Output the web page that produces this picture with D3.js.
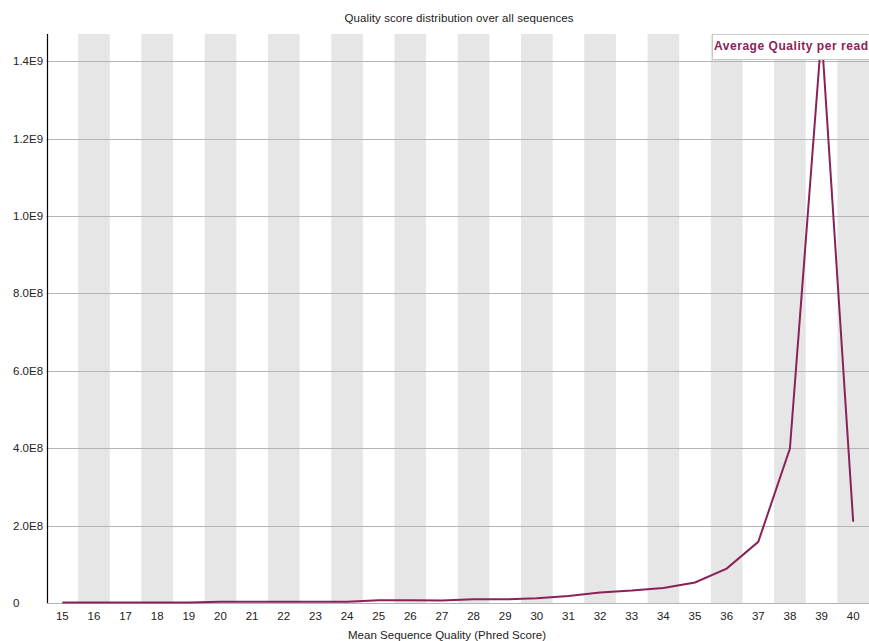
<!DOCTYPE html>
<html>
<head>
<meta charset="utf-8">
<script src="https://cdn.jsdelivr.net/npm/d3@7"></script>
<style>
  html, body { margin: 0; padding: 0; background: #fff; }
  svg { display: block; font-family: "Liberation Sans", Arial, sans-serif; }
</style>
</head>
<body>
<svg id="chart" width="869" height="641"></svg>
<script>
// Mean quality score per read (Phred) and the number of reads at each score
const qualities = [15, 16, 17, 18, 19, 20, 21, 22, 23, 24, 25, 26, 27, 28, 29, 30, 31, 32, 33, 34, 35, 36, 37, 38, 39, 40];
const readCounts = [
  1.0e6, 1.0e6, 1.0e6, 1.0e6, 1.0e6,
  3.4e6, 3.4e6, 3.4e6, 3.4e6, 3.4e6,
  7.0e6, 7.0e6, 6.5e6, 9.5e6, 9.5e6,
  1.2e7, 1.8e7, 2.7e7, 3.2e7, 3.9e7,
  5.3e7, 8.9e7, 1.58e8, 3.99e8, 1.47e9, 2.1e8
];
const yTicks = [0, 2e8, 4e8, 6e8, 8e8, 1e9, 1.2e9, 1.4e9];
const yTickLabels = ["0", "2.0E8", "4.0E8", "6.0E8", "8.0E8", "1.0E9", "1.2E9", "1.4E9"];
const seriesName = "Average Quality per read";
const chartTitle = "Quality score distribution over all sequences";
const xTitle = "Mean Sequence Quality (Phred Score)";

const svg = d3.select("#chart");
const plot = { left: 46.5, right: 869, top: 34, bottom: 603 };
const lineColor = "#8b2257";

const x = d3.scaleBand()
  .domain(qualities)
  .range([plot.left, plot.right])
  .padding(0);

const y = d3.scaleLinear()
  .domain([0, d3.max(readCounts)])
  .range([plot.bottom, plot.top]);

// alternating background stripes
svg.append("g")
  .selectAll("rect")
  .data(qualities.filter((q, i) => i % 2 === 1))
  .join("rect")
  .attr("x", d => x(d))
  .attr("y", plot.top)
  .attr("width", x.bandwidth())
  .attr("height", plot.bottom - plot.top)
  .attr("fill", "#e6e6e6");

// horizontal grid lines
svg.append("g")
  .selectAll("line")
  .data(yTicks)
  .join("line")
  .attr("x1", plot.left)
  .attr("x2", plot.right)
  .attr("y1", d => Math.round(y(d)) + 0.5)
  .attr("y2", d => Math.round(y(d)) + 0.5)
  .attr("stroke", "#b4b4b4")
  .attr("stroke-width", 1.2);

// y tick labels (left aligned)
svg.append("g")
  .selectAll("text")
  .data(yTicks)
  .join("text")
  .attr("x", 13)
  .attr("y", d => y(d) + 4)
  .attr("font-size", 11.5)
  .attr("fill", "#222")
  .text((d, i) => yTickLabels[i]);

// y axis line
svg.append("line")
  .attr("x1", 47.5).attr("x2", 47.5)
  .attr("y1", plot.top).attr("y2", plot.bottom)
  .attr("stroke", "#000")
  .attr("stroke-width", 1.2);

// x tick labels
svg.append("g")
  .selectAll("text")
  .data(qualities)
  .join("text")
  .attr("x", d => x(d) + x.bandwidth() / 2)
  .attr("y", 620)
  .attr("text-anchor", "middle")
  .attr("font-size", 11.5)
  .attr("fill", "#222")
  .text(d => d);

// series line
const line = d3.line()
  .x((d, i) => x(qualities[i]) + x.bandwidth() / 2)
  .y(d => y(d));

svg.append("path")
  .datum(readCounts)
  .attr("d", line)
  .attr("fill", "none")
  .attr("stroke", lineColor)
  .attr("stroke-width", 2)
  .attr("stroke-linejoin", "miter");

// legend
const legend = svg.append("g");
legend.append("rect")
  .attr("x", 712.5).attr("y", 34.5)
  .attr("width", 160).attr("height", 25)
  .attr("fill", "#fff")
  .attr("stroke", "#c8c8c8");
legend.append("text")
  .attr("x", 714)
  .attr("y", 50)
  .attr("font-size", 12)
  .attr("font-weight", "bold")
  .attr("textLength", 154)
  .attr("lengthAdjust", "spacing")
  .attr("fill", lineColor)
  .text(seriesName);

// titles
svg.append("text")
  .attr("x", 459).attr("y", 22)
  .attr("text-anchor", "middle")
  .attr("font-size", 11.5)
  .attr("textLength", 229)
  .attr("lengthAdjust", "spacing")
  .attr("fill", "#222")
  .text(chartTitle);

svg.append("text")
  .attr("x", 447).attr("y", 639)
  .attr("text-anchor", "middle")
  .attr("font-size", 11.5)
  .attr("textLength", 198)
  .attr("lengthAdjust", "spacing")
  .attr("fill", "#222")
  .text(xTitle);
</script>
</body>
</html>
